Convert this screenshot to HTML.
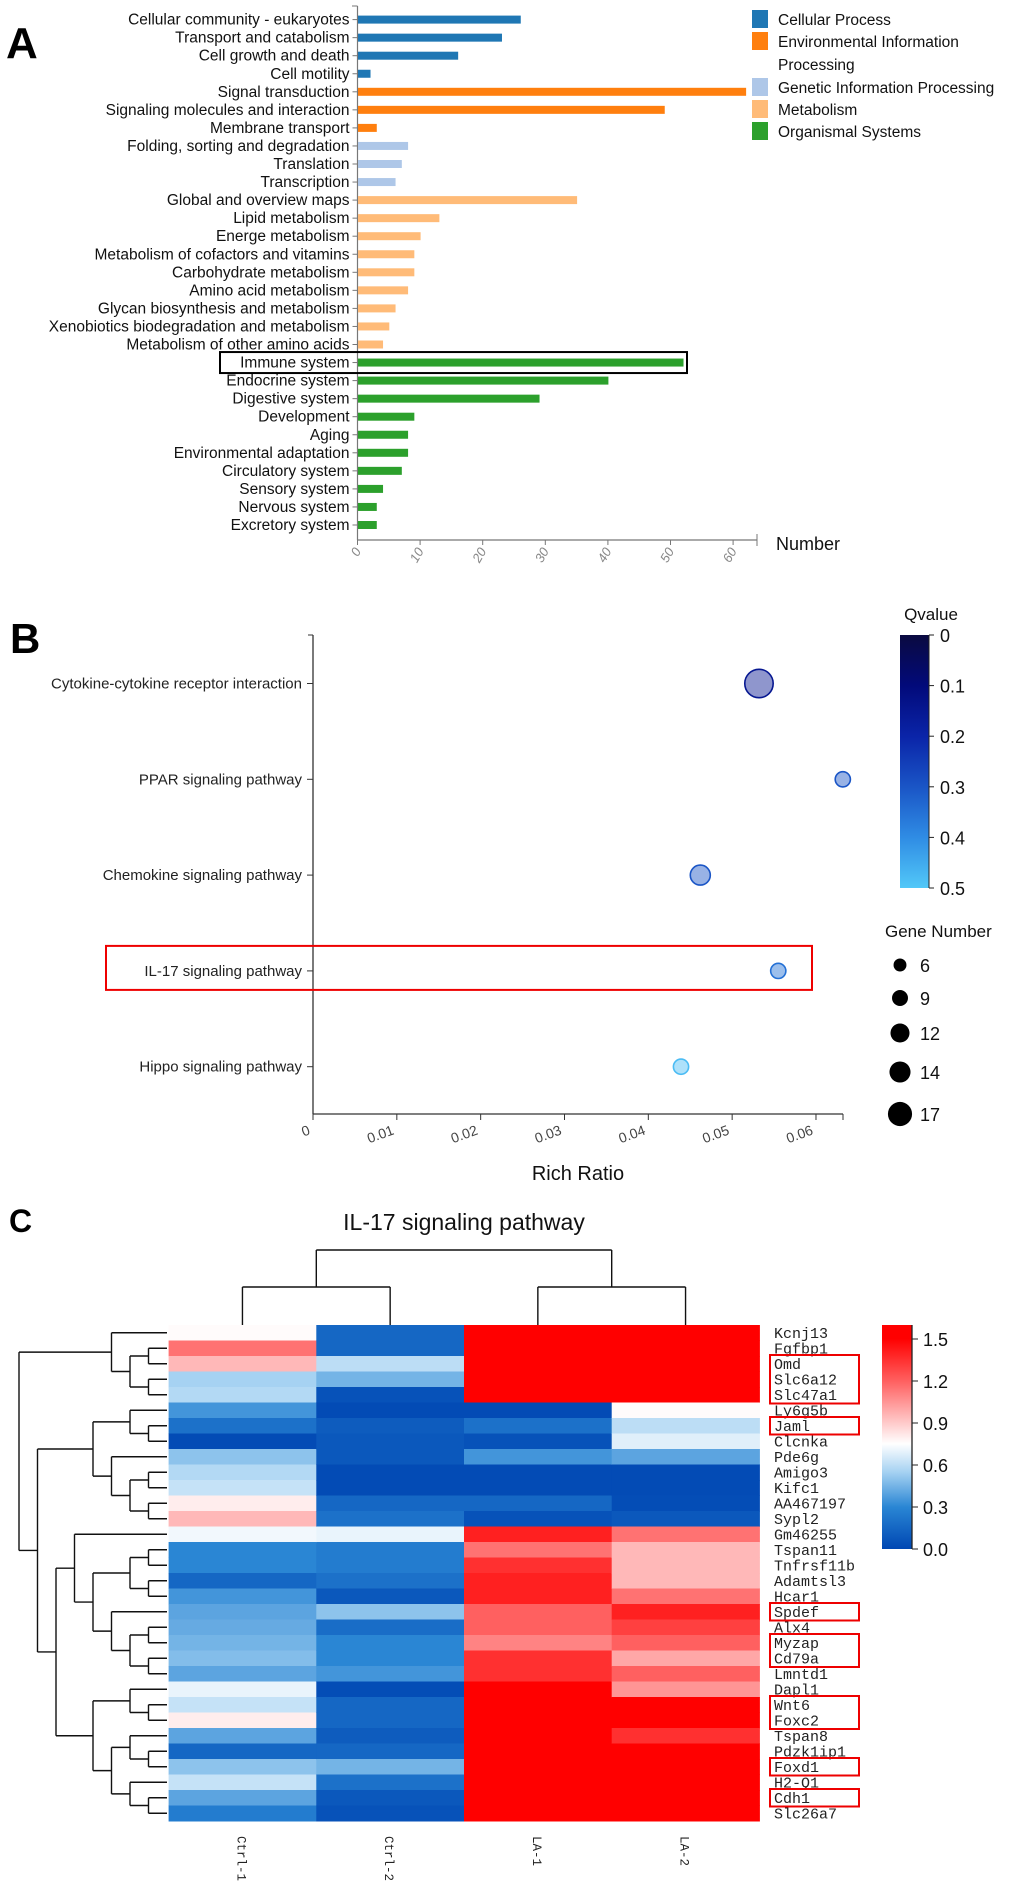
<!DOCTYPE html>
<html><head><meta charset="utf-8"><style>
html,body{margin:0;padding:0;background:#fff;}
svg{display:block;font-family:"Liberation Sans",sans-serif;}
</style></head><body>
<svg id="fig" width="1020" height="1886" viewBox="0 0 1020 1886" xmlns="http://www.w3.org/2000/svg">
<defs>
<linearGradient id="qgrad" x1="0" y1="0" x2="0" y2="1">
<stop offset="0" stop-color="#0a0a40"/><stop offset="0.2" stop-color="#020a7a"/><stop offset="0.4" stop-color="#0a24a8"/><stop offset="0.6" stop-color="#1a55c6"/><stop offset="0.8" stop-color="#2f8ce4"/><stop offset="1" stop-color="#52c8f8"/>
</linearGradient>
<linearGradient id="hgrad" x1="0" y1="1" x2="0" y2="0">
<stop offset="0" stop-color="#0047b3"/><stop offset="0.1875" stop-color="#2a86d4"/><stop offset="0.344" stop-color="#a6d2f2"/><stop offset="0.47" stop-color="#ffffff"/><stop offset="0.75" stop-color="#ff6060"/><stop offset="0.94" stop-color="#ff0000"/><stop offset="1" stop-color="#ff0000"/>
</linearGradient>
</defs>
<text x="6" y="58" font-size="44" font-weight="bold">A</text>
<text x="10" y="653" font-size="42" font-weight="bold">B</text>
<text x="9" y="1232" font-size="32" font-weight="bold">C</text>
<g id="ga"></g><g id="gb"></g><g id="gc"></g>
</svg>
<script>
// ---------- Panel A data ----------
const aCategories = ["Cellular community - eukaryotes","Transport and catabolism","Cell growth and death","Cell motility","Signal transduction","Signaling molecules and interaction","Membrane transport","Folding, sorting and degradation","Translation","Transcription","Global and overview maps","Lipid metabolism","Energe metabolism","Metabolism of cofactors and vitamins","Carbohydrate metabolism","Amino acid metabolism","Glycan biosynthesis and metabolism","Xenobiotics biodegradation and metabolism","Metabolism of other amino acids","Immune system","Endocrine system","Digestive system","Development","Aging","Environmental adaptation","Circulatory system","Sensory system","Nervous system","Excretory system"];
const aValues = [26,23,16,2,62,49,3,8,7,6,35,13,10,9,9,8,6,5,4,52,40,29,9,8,8,7,4,3,3];
const aGroups = [0,0,0,0,1,1,1,2,2,2,3,3,3,3,3,3,3,3,3,4,4,4,4,4,4,4,4,4,4];
const aGroupNames = ["Cellular Process","Environmental Information Processing","Genetic Information Processing","Metabolism","Organismal Systems"];
const aTicks = [0,10,20,30,40,50,60];
// ---------- Panel B data ----------
const bPathways = ["Cytokine-cytokine receptor interaction","PPAR signaling pathway","Chemokine signaling pathway","IL-17 signaling pathway","Hippo signaling pathway"];
const bRichRatio = [0.0532,0.0632,0.0462,0.0555,0.0439];
const bGeneNumber = [17,6,10,6,6];
const bQvalue = [0.15,0.3,0.3,0.35,0.48];
const bTicks = [0,0.01,0.02,0.03,0.04,0.05,0.06];
const bQTicks = [0,0.1,0.2,0.3,0.4,0.5];
const bSizeLegend = [6,9,12,14,17];
// ---------- Panel C data ----------
const cGenes = ["Kcnj13","Fgfbp1","Omd","Slc6a12","Slc47a1","Ly6g5b","Jaml","Clcnka","Pde6g","Amigo3","Kifc1","AA467197","Sypl2","Gm46255","Tspan11","Tnfrsf11b","Adamtsl3","Hcar1","Spdef","Alx4","Myzap","Cd79a","Lmntd1","Dapl1","Wnt6","Foxc2","Tspan8","Pdzk1ip1","Foxd1","H2-Q1","Cdh1","Slc26a7"];
const cSamples = ["Ctrl-1","Ctrl-2","LA-1","LA-2"];
const cCtrl1 = [0.76,1.15,0.95,0.55,0.58,0.35,0.2,0.02,0.5,0.58,0.62,0.8,0.95,0.72,0.3,0.3,0.15,0.35,0.4,0.42,0.45,0.48,0.4,0.7,0.62,0.8,0.4,0.15,0.5,0.62,0.4,0.25];
const cCtrl2 = [0.15,0.15,0.6,0.45,0.05,0.02,0.1,0.08,0.08,0.02,0.02,0.15,0.2,0.7,0.25,0.25,0.2,0.08,0.5,0.18,0.3,0.3,0.35,0.03,0.15,0.15,0.1,0.15,0.45,0.2,0.08,0.05];
const cLA1 = [1.6,1.6,1.6,1.6,1.6,0.02,0.2,0.05,0.35,0.02,0.02,0.15,0.05,1.4,1.15,1.35,1.4,1.4,1.2,1.2,1.1,1.35,1.35,1.6,1.6,1.6,1.6,1.6,1.6,1.6,1.6,1.6];
const cLA2 = [1.6,1.6,1.6,1.6,1.6,0.76,0.6,0.68,0.4,0.02,0.02,0.03,0.08,1.15,0.95,0.95,0.95,1.15,1.4,1.3,1.2,1.0,1.2,1.05,1.55,1.55,1.35,1.6,1.6,1.6,1.6,1.6];
const cBoxed = [[2,4],[6,6],[18,18],[20,21],[24,25],[28,28],[30,30]];
const cScaleTicks = [0,0.3,0.6,0.9,1.2,1.5];
const cRowTree = [8,[3,0,[2,[1,1,2],[1,3,4]]],[7,[4,[2,5,[1,6,7]],[3,8,[2,[1,9,10],[1,11,12]]]],[6,[5,13,[4,[2,[1,14,15],[1,16,17]],[3,18,[2,[1,19,20],[1,21,22]]]]],[4,[2,23,[1,24,25]],[3,[2,26,[1,27,28]],[2,29,[1,30,31]]]]]]];

const NS="http://www.w3.org/2000/svg";
function mk(parent,tag,attrs,text){const e=document.createElementNS(NS,tag);for(const k in attrs)e.setAttribute(k,attrs[k]);if(text!==undefined)e.textContent=text;parent.appendChild(e);return e;}

// ================= Panel A =================
(function(){
const g=document.getElementById('ga');
const colors=["#1f77b4","#ff7f0e","#aec7e8","#ffbb78","#2ca02c"];
const x0=357.5, pxPer=6.26, yTop=19.6, step=18.05;
const xs=v=>x0+v*pxPer, ys=i=>yTop+i*step;
let l=mk(g,'line',{x1:x0,y1:6,x2:x0,y2:540,stroke:'#777','stroke-width':1.2});


l=mk(g,'line',{x1:x0,y1:540,x2:757,y2:540,stroke:'#777','stroke-width':1.2});


mk(g,'line',{x1:352,y1:6,x2:x0,y2:6,stroke:'#777'});
mk(g,'line',{x1:757,y1:534,x2:757,y2:546,stroke:'#777'});
aCategories.forEach((c,i)=>{
  const y=ys(i);
  mk(g,'line',{x1:x0-5,y1:y,x2:x0,y2:y,stroke:'#777'});
  const t=mk(g,'text',{x:x0-8,y:y+5,'font-size':15.5,'text-anchor':'end',fill:'#111','font-family':'"Liberation Sans Narrow","Liberation Sans",sans-serif'},c);
  
  
  const r=mk(g,'rect',{x:x0+0.5,y:y-4,width:xs(aValues[i])-x0,height:8,fill:colors[aGroups[i]]});
  
  
});
const iy=ys(aCategories.indexOf("Immune system"));
const box=mk(g,'rect',{x:220,y:iy-10.5,width:467,height:21,fill:'none',stroke:'#000','stroke-width':2});


aTicks.forEach(v=>{
  const x=xs(v);
  mk(g,'line',{x1:x,y1:540,x2:x,y2:545,stroke:'#777'});
  const t=mk(g,'text',{x:x+4,y:551,'font-size':13,fill:'#888','text-anchor':'end','font-style':'italic',transform:`rotate(-60 ${x+4} 551)`},String(v));
  
  
});
const nt=mk(g,'text',{x:776,y:550,'font-size':18,fill:'#111'},'Number');


const legY=[20,42,88,110,132];
aGroupNames.forEach((n,i)=>{
  const sw=mk(g,'rect',{x:752,y:legY[i]-10,width:16,height:18,fill:colors[i]});
  
  
  const t=mk(g,'text',{x:778,y:legY[i]+5,'font-size':15.5,fill:'#111','font-family':'"Liberation Sans Narrow","Liberation Sans",sans-serif'},i==1?'Environmental Information':n);
  
  
  if(i==1){const t2=mk(g,'text',{x:778,y:70,'font-size':15.5,fill:'#111','font-family':'"Liberation Sans Narrow","Liberation Sans",sans-serif'},'Processing');
  
  }
});
})();

// ================= Panel B =================
(function(){
const g=document.getElementById('gb');
const x0=313, per=8383, yTop=683.5, step=95.8;
const xs=v=>x0+v*per, ys=i=>yTop+i*step, rs=n=>4+0.6*n;
const qStops=[[0,[10,10,64]],[0.1,[2,10,122]],[0.2,[10,36,168]],[0.3,[26,85,198]],[0.4,[47,140,228]],[0.5,[82,200,248]]];
function qcol(q){for(let k=1;k<qStops.length;k++){if(q<=qStops[k][0]){const a=qStops[k-1],b=qStops[k],t=(q-a[0])/(b[0]-a[0]);return 'rgb('+a[1].map((c,j)=>Math.round(c+(b[1][j]-c)*t)).join(',')+')';}}return 'rgb(82,200,248)';}
let l=mk(g,'line',{x1:x0,y1:635,x2:x0,y2:1114,stroke:'#333','stroke-width':1.3});


l=mk(g,'line',{x1:x0,y1:1114,x2:843,y2:1114,stroke:'#333','stroke-width':1.3});


mk(g,'line',{x1:308,y1:635,x2:x0,y2:635,stroke:'#333'});
mk(g,'line',{x1:843,y1:1114,x2:843,y2:1120,stroke:'#333'});
bPathways.forEach((p,i)=>{
  const y=ys(i);
  mk(g,'line',{x1:x0-6,y1:y,x2:x0,y2:y,stroke:'#333'});
  const t=mk(g,'text',{x:x0-11,y:y+5,'font-size':15,'text-anchor':'end',fill:'#222'},p);
  
  
  const c=qcol(bQvalue[i]);
  const ci=mk(g,'circle',{cx:xs(bRichRatio[i]),cy:y,r:rs(bGeneNumber[i]),fill:c,'fill-opacity':0.45,stroke:c,'stroke-width':1.6});
  
  
});
bTicks.forEach(v=>{
  const x=xs(v);
  mk(g,'line',{x1:x,y1:1114,x2:x,y2:1120,stroke:'#333'});
  const t=mk(g,'text',{x:x-2,y:1134,'font-size':14,fill:'#444','text-anchor':'end',transform:`rotate(-20 ${x-2} 1134)`},String(v));
  
  
});
const tt=mk(g,'text',{x:578,y:1180,'font-size':20,'text-anchor':'middle',fill:'#111'},'Rich Ratio');


const il=ys(bPathways.indexOf("IL-17 signaling pathway"));
const rb=mk(g,'rect',{x:106,y:il-25,width:706,height:44,fill:'none',stroke:'#e00','stroke-width':2});


const qt=mk(g,'text',{x:931,y:620,'font-size':17,'text-anchor':'middle',fill:'#111'},'Qvalue');


const cb=mk(g,'rect',{x:900,y:635,width:29,height:253,fill:'url(#qgrad)'});


mk(g,'line',{x1:929,y1:635,x2:929,y2:888,stroke:'#222'});
bQTicks.forEach(q=>{
  const y=635+q/0.5*253;
  mk(g,'line',{x1:929,y1:y,x2:934,y2:y,stroke:'#222'});
  const t=mk(g,'text',{x:940,y:y+7,'font-size':18,fill:'#111'},String(q));
  
  
});
const gt=mk(g,'text',{x:885,y:937,'font-size':17,fill:'#111'},'Gene Number');


const ly=[965,998,1033,1072,1114];
bSizeLegend.forEach((n,i)=>{
  const c=mk(g,'circle',{cx:900,cy:ly[i],r:rs(n)*0.85,fill:'#000'});
  
  
  const t=mk(g,'text',{x:920,y:ly[i]+7,'font-size':18,fill:'#111'},String(n));
  
  
});
})();

// ================= Panel C =================
(function(){
const g=document.getElementById('gc');
const hx0=168.6, cw=147.7, hy0=1325, rh=15.5;
const cols=[cCtrl1,cCtrl2,cLA1,cLA2];
const stops=[[0,[0,71,179]],[0.3,[42,134,212]],[0.55,[166,210,242]],[0.75,[255,255,255]],[1.2,[255,96,96]],[1.5,[255,0,0]]];
function hcol(v){if(v<=0)return 'rgb(0,71,179)';for(let k=1;k<stops.length;k++){if(v<=stops[k][0]){const a=stops[k-1],b=stops[k],t=(v-a[0])/(b[0]-a[0]);return 'rgb('+a[1].map((c,j)=>Math.round(c+(b[1][j]-c)*t)).join(',')+')';}}return 'rgb(255,0,0)';}
const title=mk(g,'text',{x:464,y:1230,'font-size':23,'text-anchor':'middle',fill:'#111'},'IL-17 signaling pathway');


cols.forEach((arr,j)=>{
  arr.forEach((v,i)=>{
    const r=mk(g,'rect',{x:hx0+j*cw,y:hy0+i*rh,width:cw+0.5,height:rh+0.5,fill:hcol(v)});
    
    
  });
  const cx=hx0+(j+0.5)*cw;
  const t=mk(g,'text',{x:cx-5,y:1836,'font-size':12.5,'font-family':'"Liberation Mono",monospace',fill:'#222',transform:`rotate(90 ${cx-5} 1836)`},cSamples[j]);
  
  
});
cGenes.forEach((gn,i)=>{
  const t=mk(g,'text',{x:774,y:hy0+i*rh+rh/2+5,'font-size':15,'font-family':'"Liberation Mono",monospace',fill:'#222'},gn);
  
  
});
cBoxed.forEach(b=>{
  const r=mk(g,'rect',{x:770,y:hy0+b[0]*rh-1,width:89,height:(b[1]-b[0]+1)*rh+2,fill:'none',stroke:'#e00','stroke-width':2});
  
  
});
// column dendrogram
const cc=j=>hx0+(j+0.5)*cw;
const dl=(x1,y1,x2,y2,n)=>{const e=mk(g,'line',{x1,y1,x2,y2,stroke:'#111','stroke-width':1.4});return e;};
[[0,1],[2,3]].forEach(p=>{
  dl(cc(p[0]),1287,cc(p[1]),1287,'column-dendrogram-branch');
  dl(cc(p[0]),1287,cc(p[0]),1325,'column-dendrogram-branch');
  dl(cc(p[1]),1287,cc(p[1]),1325,'column-dendrogram-branch');
});
const m1=(cc(0)+cc(1))/2, m2=(cc(2)+cc(3))/2;
dl(m1,1250,m2,1250,'column-dendrogram-branch');
dl(m1,1250,m1,1287,'column-dendrogram-branch');
dl(m2,1250,m2,1287,'column-dendrogram-branch');
// row dendrogram
const leafX=167, lvl=18.5;
function draw(node){
  if(typeof node==='number')return {x:leafX,y:hy0+node*rh+rh/2};
  const a=draw(node[1]), b=draw(node[2]);
  const x=leafX-node[0]*lvl;
  dl(x,a.y,a.x,a.y,'row-dendrogram-branch');
  dl(x,b.y,b.x,b.y,'row-dendrogram-branch');
  dl(x,a.y,x,b.y,'row-dendrogram-branch');
  return {x,y:(a.y+b.y)/2};
}
draw(cRowTree);
// colorbar
const cb=mk(g,'rect',{x:882,y:1325,width:30,height:224,fill:'url(#hgrad)'});


mk(g,'line',{x1:912,y1:1325,x2:912,y2:1549,stroke:'#222','stroke-width':1.3});
cScaleTicks.forEach(v=>{
  const y=1549-v/1.6*224;
  mk(g,'line',{x1:912,y1:y,x2:918,y2:y,stroke:'#222'});
  const t=mk(g,'text',{x:923,y:y+7,'font-size':18,fill:'#111'},v.toFixed(1));
  
  
});
})();
</script>
</body></html>
